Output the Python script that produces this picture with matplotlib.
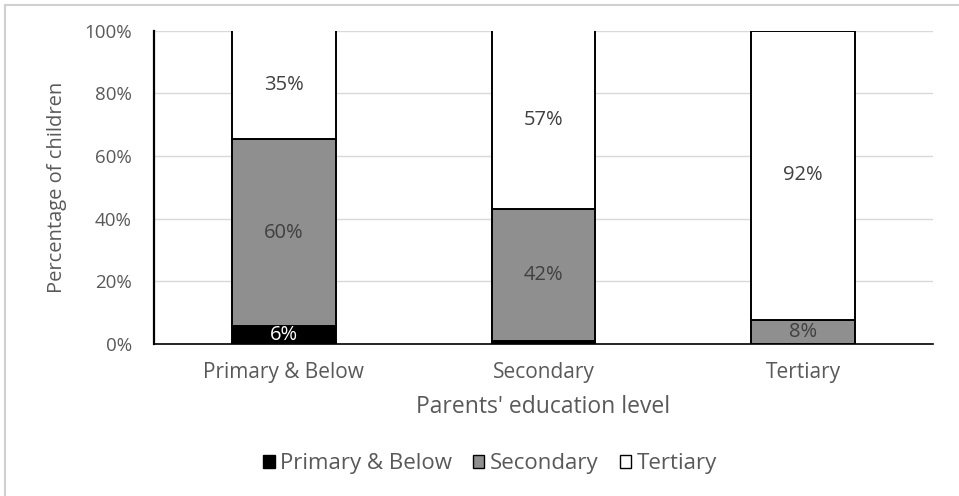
import matplotlib
matplotlib.use("Agg")
import matplotlib.pyplot as plt
from matplotlib.patches import Rectangle, Patch
import numpy as np

# Share of children by their own education level, per parents' education level
categories = ["Primary & Below", "Secondary", "Tertiary"]
series_names = ["Primary & Below", "Secondary", "Tertiary"]
primary_vals = [5.6, 1.0, 0.0]
secondary_vals = [59.8, 42.2, 7.7]
tertiary_vals = [34.6, 56.8, 92.3]
y_ticks = [0, 20, 40, 60, 80, 100]

plt.rcParams["font.family"] = ["Open Sans", "DejaVu Sans"]
text_gray = "#595959"
label_gray = "#404040"

fig = plt.figure(figsize=(9.59, 4.96), dpi=100)
ax = fig.add_axes([154 / 959, 1 - 344 / 496, (933 - 154) / 959, (344 - 30.5) / 496])

x = np.arange(len(categories))
width = 0.4
fills = ["#000000", "#8f8f8f", "#ffffff"]
series = [primary_vals, secondary_vals, tertiary_vals]
label_colors = ["#ffffff", label_gray, label_gray]

bottom = np.zeros(len(categories))
for vals, fc, lc in zip(series, fills, label_colors):
    vals = np.array(vals)
    ax.bar(x, vals, width, bottom=bottom, color=fc, edgecolor="#000000",
           linewidth=1.4, zorder=3)
    for xi, b, v in zip(x, bottom, vals):
        if v >= 3:
            ax.text(xi, b + v / 2, f"{v:.0f}%", ha="center", va="center",
                    fontsize=14.5, color=lc, zorder=4)
    bottom += vals

ax.set_xlim(-0.5, len(categories) - 0.5)
ax.set_ylim(0, 100)
ax.set_yticks(y_ticks)
ax.set_yticklabels([f"{t}%" for t in y_ticks])
ax.set_xticks(x)
ax.set_xticklabels(categories)
ax.tick_params(axis="both", length=0, labelsize=13.5, colors=text_gray)
ax.tick_params(axis="x", labelsize=15, pad=13)
ax.tick_params(axis="y", pad=16)
ax.yaxis.grid(True, color="#d9d9d9", linewidth=1.0, zorder=0)
ax.set_axisbelow(True)

for side in ["top", "right"]:
    ax.spines[side].set_visible(False)
ax.spines["left"].set_color("#000000")
ax.spines["left"].set_linewidth(1.6)
ax.spines["bottom"].set_color("#000000")
ax.spines["bottom"].set_linewidth(1.2)

ax.set_ylabel("Percentage of children", fontsize=14.5, color=text_gray, labelpad=12)
ax.set_xlabel("Parents' education level", fontsize=16.5, color=text_gray, labelpad=8.5)

handles = [Patch(facecolor=fc, edgecolor="#000000", linewidth=1.0) for fc in fills]
leg = fig.legend(handles, series_names, loc="center", bbox_to_anchor=(490 / 959, 1 - 464 / 496),
                 ncol=3, frameon=False, fontsize=16, handlelength=0.5, handleheight=0.55,
                 handletextpad=0.25, columnspacing=0.95)
for t in leg.get_texts():
    t.set_color(text_gray)

# light frame around the chart area
fig.patches.append(Rectangle((5 / 959, -0.1), 1.2, 0.1 + 1 - 5 / 496,
                             transform=fig.transFigure, fill=False,
                             edgecolor="#d0d0d0", linewidth=1.5))

fig.savefig("out.png", dpi=100)
